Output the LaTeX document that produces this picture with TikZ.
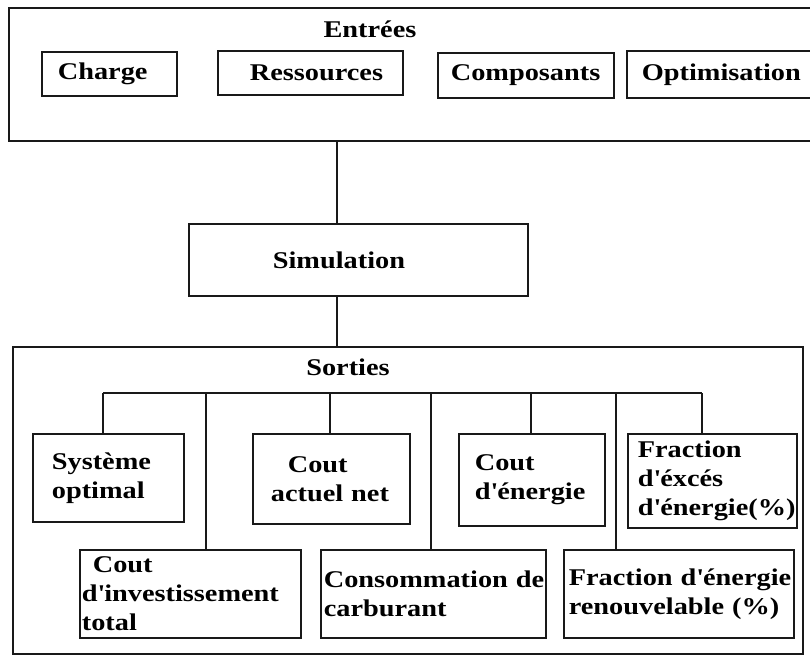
\documentclass[tikz,border=0pt]{standalone}
\usepackage{fontspec}
\newfontfamily\boxfont{Liberation Serif}[FakeStretch=1.18]
\newcommand{\aps}{\textquotesingle}
\tikzset{
  frame/.style={draw=black!90, line width=1.7pt},
  itembox/.style n args={4}{frame, anchor=north west, minimum width=#1, minimum height=#2,
    inner xsep=#3, inner ysep=0pt, text width=#4, align=left},
  link/.style={black!90, line width=1.7pt}
}
\begin{document}
\begin{tikzpicture}[x=1pt,y=-1pt,font={\boxfont\bfseries\fontsize{24}{29}\selectfont}]
\clip (0,0) rectangle (810,655);
%\draw[help lines] (0,0) grid[step=50] (810,655);

% Entrees
\node (entrees) [frame, anchor=north west, minimum width=822pt, minimum height=133pt, inner sep=0pt] at (8,7) {};
\node (entreestitle) at (370,29) {Entrées};
\node (charge) [itembox={135pt}{44pt}{16pt}{103pt}] at (41,51) {Charge};
\node (ressources) [itembox={185pt}{44pt}{32pt}{121pt}] at (217,50) {Ressources};
\node (composants) [itembox={176pt}{45pt}{13pt}{150pt}] at (437,52) {Composants};
\node (optimisation) [itembox={204pt}{47pt}{15pt}{174pt}] at (626,50) {Optimisation};

% Simulation
\node (simulation) [itembox={339pt}{72pt}{84pt}{171pt}] at (188,223) {Simulation};

% Sorties
\node (sorties) [frame, anchor=north west, minimum width=790pt, minimum height=307pt, inner sep=0pt] at (12,346) {};
\node (sortiestitle) at (348,367) {Sorties};
\node (systeme) [itembox={151pt}{88pt}{19pt}{113pt}] at (32,433) {Système\\optimal};
\node (actuel) [itembox={157pt}{90pt}{18pt}{121pt}] at (252,433) {\hspace*{17pt}Cout\\actuel~net};
\node (energie) [itembox={146pt}{92pt}{16pt}{114pt}] at (458,433) {Cout\\d\aps énergie};
\node (exces) [itembox={169pt}{94pt}{10pt}{149pt}] at (627,433) {Fraction\\d\aps éxcés\\d\aps énergie(\%)};
\node (invest) [itembox={221pt}{88pt}{2pt}{217pt}] at (79,549) {\hspace*{11pt}Cout\\d\aps investissement\\total};
\node (conso) [itembox={225pt}{88pt}{3pt}{219pt}] at (320,549) {Consommation~de\\carburant};
\node (renouv) [itembox={230pt}{88pt}{5pt}{220pt}] at (563,549) {Fraction~d\aps énergie\\renouvelable~(\%)};

% connectors
\coordinate (trunk) at (337,0);
\coordinate (bus) at (0,393);
\draw[link] (entrees.south -| trunk) -- (simulation.north -| trunk);
\draw[link] (simulation.south -| trunk) -- (sorties.north -| trunk);
\draw[link] (bus -| 103,0) -- (bus -| 702,0);
\foreach \x/\n in {103/systeme,206/invest,330/actuel,431/conso,531/energie,616/renouv,702/exces}
  \draw[link] (bus -| \x,0) -- (\n.north -| \x,0);
\end{tikzpicture}
\end{document}
